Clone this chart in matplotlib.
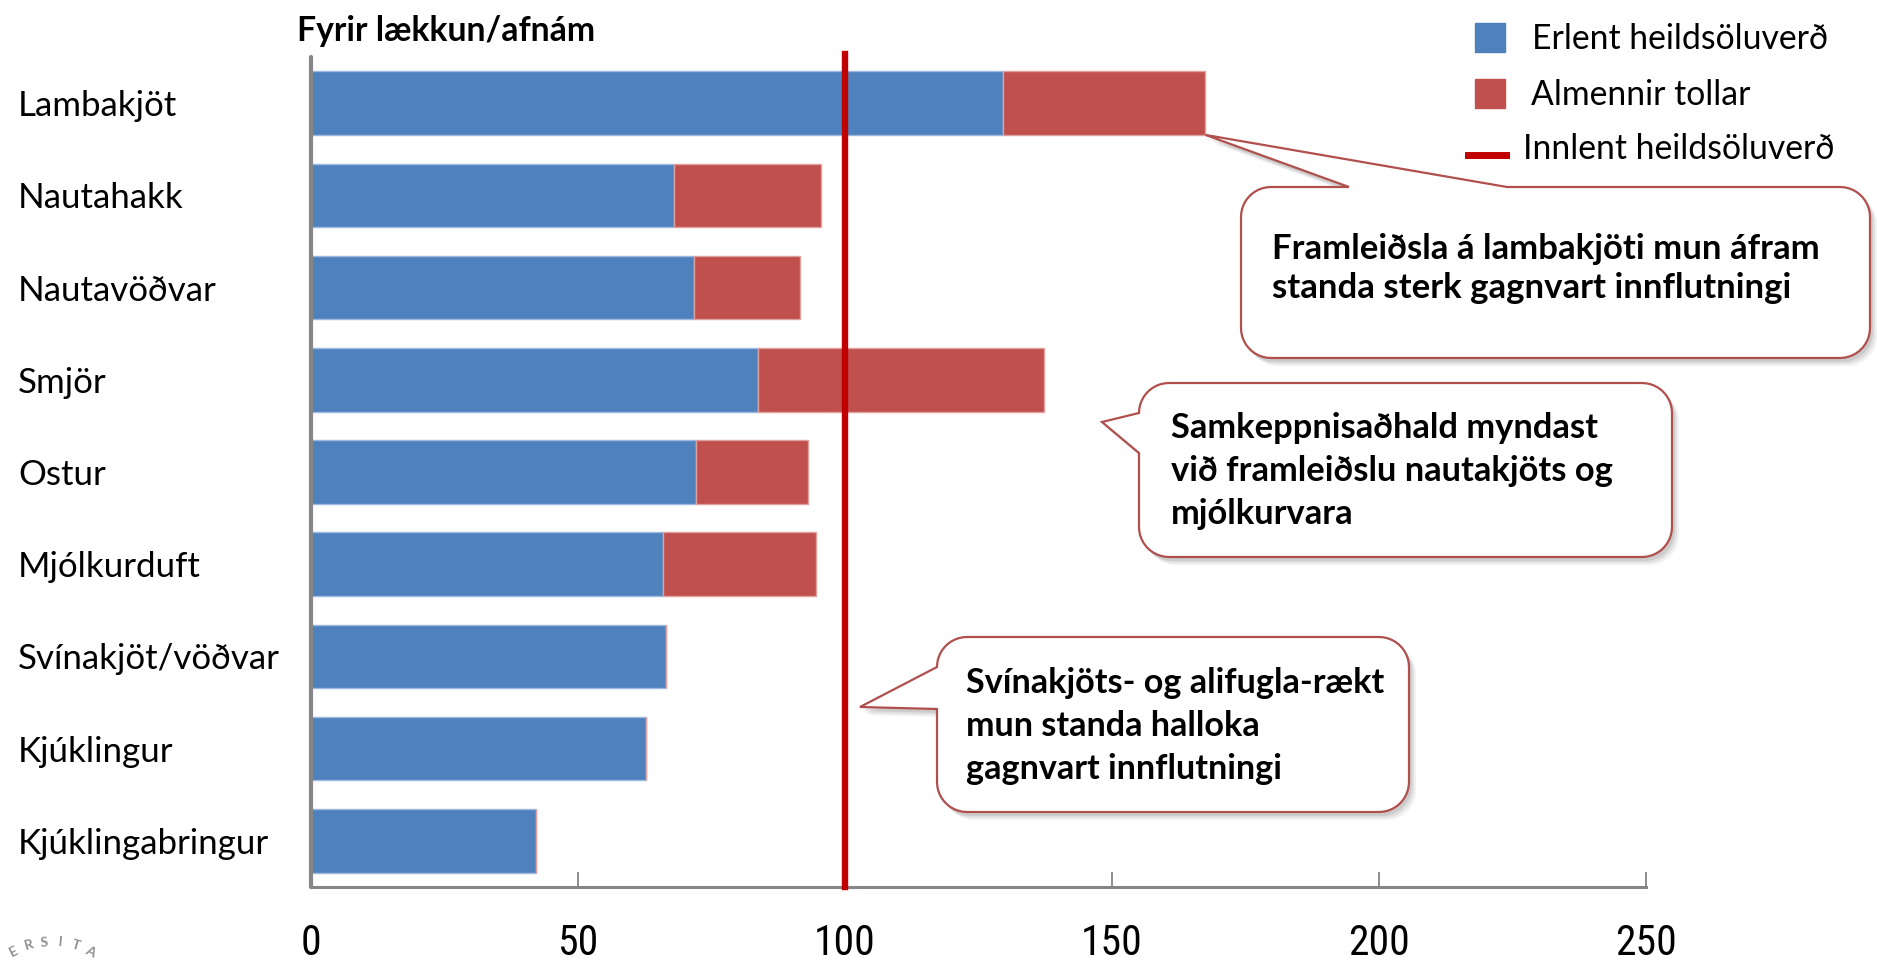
import numpy as np
import matplotlib
matplotlib.use("Agg")
import matplotlib.pyplot as plt
from matplotlib import font_manager
from matplotlib.font_manager import FontProperties
from matplotlib.path import Path
from matplotlib.patches import PathPatch, Rectangle
from matplotlib.lines import Line2D

# ---------------- data ----------------
categories = ["Lambakjöt", "Nautahakk", "Nautavöðvar", "Smjör", "Ostur",
              "Mjólkurduft", "Svínakjöt/vöðvar", "Kjúklingur", "Kjúklingabringur"]
erlent = [129.5, 68.0, 71.7, 83.8, 72.1, 65.9, 66.5, 62.7, 42.1]
tollar = [38.0, 27.5, 19.9, 53.5, 20.9, 28.7, 0.0, 0.0, 0.0]
innlent = 100
xticks = [0, 50, 100, 150, 200, 250]
legend_labels = ["Erlent heildsöluverð", "Almennir tollar", "Innlent heildsöluverð"]
title = "Fyrir lækkun/afnám"
callout_lines = [
    ["Framleiðsla á lambakjöti mun áfram", "standa sterk gagnvart innflutningi"],
    ["Samkeppnisaðhald myndast", "við framleiðslu nautakjöts og", "mjólkurvara"],
    ["Svínakjöts- og alifugla-rækt", "mun standa halloka", "gagnvart innflutningi"],
]

BLUE = "#4F81BD"
RED = "#C0504D"
DARKRED = "#C00000"
GRAY = "#868686"

names = {f.name for f in font_manager.fontManager.ttflist}
MAIN = "Lato" if "Lato" in names else "DejaVu Sans"
plt.rcParams["font.family"] = [MAIN, "DejaVu Sans"]

# narrow font for the x tick labels, if any is installed
narrow = None
for pref in ["Liberation Sans Narrow", "Arial Narrow", "Roboto Condensed", "Open Sans Condensed"]:
    for f in font_manager.fontManager.ttflist:
        if f.name == pref and f.style == "normal" and f.weight in (400, "normal", "regular"):
            narrow = f.fname
            break
    if narrow:
        break
if narrow is None:
    for f in font_manager.fontManager.ttflist:
        if f.stretch in ("condensed", "semi-condensed") and f.style == "normal" and f.weight in (400, "normal", "regular"):
            narrow = f.fname
            break
tick_fp = FontProperties(fname=narrow) if narrow else FontProperties(family="Liberation Sans")
tick_fp.set_size(30)

W, H = 1877, 961
fig = plt.figure(figsize=(W / 100, H / 100), dpi=100)
fig.patch.set_facecolor("white")
renderer = fig.canvas.get_renderer()


def fit(t, target):
    w = t.get_window_extent(renderer).width
    t.set_fontsize(t.get_fontsize() * target / w)


left, right, top, bottom = 311, 1646, 57, 887
ax = fig.add_axes([left / W, 1 - bottom / H, (right - left) / W, (bottom - top) / H])

y = np.arange(len(categories))
ax.barh(y, erlent, height=0.69, color=BLUE, edgecolor="#9DB9DE", linewidth=1.0, zorder=2)
ax.barh(y, tollar, left=erlent, height=0.69, color=RED, edgecolor="#E0A09E", linewidth=1.0, zorder=2)
ax.axvline(innlent, ymin=0, ymax=1.004, color=DARKRED, linewidth=4.6, zorder=3, clip_on=False)

ax.set_xlim(0, 250)
ax.set_ylim(len(categories) - 0.5, -0.5)
ax.set_xticks(xticks)
ax.set_xticklabels([str(t) for t in xticks], fontproperties=tick_fp)
ax.tick_params(axis="x", direction="in", length=11, width=1.3, color=GRAY, pad=26)
ax.set_yticks(y)
ax.set_yticklabels(categories, fontsize=24, ha="left")
ax.tick_params(axis="y", length=0, pad=(left - 18) * 0.72)

for s in ["top", "right"]:
    ax.spines[s].set_visible(False)
ax.spines["left"].set_color(GRAY)
ax.spines["left"].set_linewidth(3.0)
ax.spines["left"].set_capstyle("round")
ax.spines["bottom"].set_color(GRAY)
ax.spines["bottom"].set_linewidth(2.2)

# scale category labels so that the longest has the reference width
ylabels = ax.get_yticklabels()
w_long = ylabels[-1].get_window_extent(renderer).width
new_size = 24 * 251 / w_long
for lab in ylabels:
    lab.set_fontsize(new_size)

# ---------------- overlay in pixel coordinates ----------------
ov = fig.add_axes([0, 0, 1, 1], zorder=10)
ov.set_xlim(0, W)
ov.set_ylim(H, 0)
ov.axis("off")
ov.patch.set_alpha(0)

t = ov.text(297, 31, title, fontsize=22, fontweight="bold", va="center", ha="left")
fit(t, 298)

# legend
ov.add_patch(Rectangle((1475, 23), 30, 29, color=BLUE))
ov.add_patch(Rectangle((1475, 79), 30, 29, color=RED))
ov.add_line(Line2D([1468, 1506], [155, 155], color=DARKRED, linewidth=5))
lt = [ov.text(1532, 39, legend_labels[0], fontsize=22, va="center"),
      ov.text(1531, 95, legend_labels[1], fontsize=22, va="center"),
      ov.text(1523, 149, legend_labels[2], fontsize=22, va="center")]
w0 = lt[0].get_window_extent(renderer).width
for tt in lt:
    tt.set_fontsize(22 * 295 / w0)


def arc(cx, cy, r, a0, a1, n=12):
    a = np.linspace(np.radians(a0), np.radians(a1), n)
    return [(cx + r * np.cos(q), cy + r * np.sin(q)) for q in a]


def callout_path(x0, y0, x1, y1, r, edge, p1, p2, tip):
    v = [(x0 + r, y0)]
    if edge == "top":
        v += [(p1, y0), tip, (p2, y0)]
    v += [(x1 - r, y0)]
    v += arc(x1 - r, y0 + r, r, -90, 0)
    v += [(x1, y1 - r)]
    v += arc(x1 - r, y1 - r, r, 0, 90)
    v += [(x0 + r, y1)]
    v += arc(x0 + r, y1 - r, r, 90, 180)
    if edge == "left":
        v += [(x0, p2), tip, (x0, p1)]
    v += [(x0, y0 + r)]
    v += arc(x0 + r, y0 + r, r, 180, 270)
    v.append(v[0])
    codes = [Path.MOVETO] + [Path.LINETO] * (len(v) - 2) + [Path.CLOSEPOLY]
    return Path(v, codes)


def draw_callout(x0, y0, x1, y1, edge, p1, p2, tip, lines, tx, tys, longest_w):
    path = callout_path(x0, y0, x1, y1, 30, edge, p1, p2, tip)
    for k, a in [(7, 0.10), (5, 0.15), (3, 0.2)]:
        sh = Path(path.vertices + np.array([k, k + 1]), path.codes)
        ov.add_patch(PathPatch(sh, facecolor="#7f7f7f", edgecolor="none", alpha=a))
    ov.add_patch(PathPatch(path, facecolor="white", edgecolor="#B0504D", linewidth=1.6))
    texts = [ov.text(tx, ty, ln, fontsize=24, fontweight="bold", va="center", ha="left")
             for ln, ty in zip(lines, tys)]
    wmax = max(tt.get_window_extent(renderer).width for tt in texts)
    for tt in texts:
        tt.set_fontsize(24 * longest_w / wmax)


# tip of the first callout at the end of the Lambakjöt bar
disp = ax.transData.transform((erlent[0] + tollar[0], 0 + 0.345))
tip1 = tuple(ov.transData.inverted().transform(disp))

draw_callout(1241, 187, 1870, 358, "top", 1349, 1507, tip1, callout_lines[0],
             1272, [249, 288], 550)
draw_callout(1139, 383, 1672, 557, "left", 413, 453, (1102, 422), callout_lines[1],
             1171, [428, 471, 514], 443)
draw_callout(937, 637, 1409, 812, "left", 667, 709, (860, 707), callout_lines[2],
             966, [683, 726, 769], 418)

# partial university seal text at bottom-left
cx, cy, rr = 52, 1026, 84
for ch, ang in zip("ERSITA", np.linspace(117, 63, 6)):
    q = np.radians(ang)
    px, py = cx + rr * np.cos(q), cy - rr * np.sin(q)
    ov.text(px, py, ch, fontsize=10, fontweight="bold", color="#8f8f8f",
            rotation=ang - 90, ha="center", va="center")

fig.savefig("out.png", dpi=100)
